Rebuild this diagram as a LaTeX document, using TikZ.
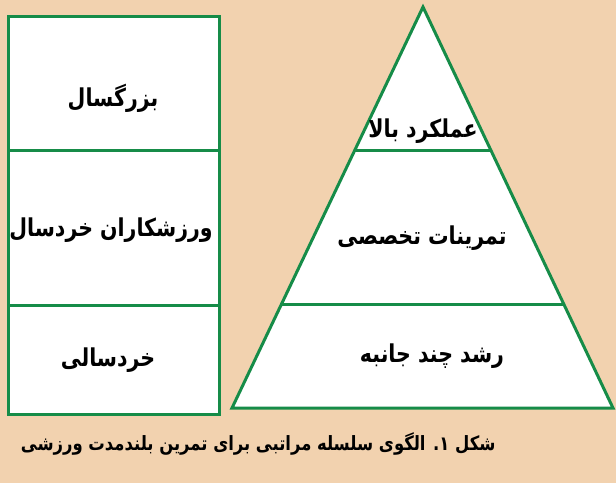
\documentclass[tikz,border=0pt]{standalone}
\usepackage{fontspec}
\usetikzlibrary{calc}
\newfontfamily\farsi[Script=Arabic]{DejaVu Sans}
\TeXXeTstate=1
\definecolor{peach}{RGB}{242,210,175}
\definecolor{leafgreen}{RGB}{22,140,72}
\newcommand{\fa}[1]{\scalebox{1}[1.2]{\beginR #1\endR}}
\begin{document}
\begin{tikzpicture}[x=1pt, y=-1pt, line width=3pt,
    cell/.style={rectangle, draw=leafgreen, fill=white, minimum width=211pt, anchor=north west, inner sep=0pt},
    tiertext/.style={inner sep=0pt, font=\farsi\bfseries\fontsize{20.5}{24}\selectfont},
    figcap/.style={inner sep=0pt, font=\farsi\bfseries\fontsize{16.4}{20}\selectfont}]
    % background
    \fill[peach] (0,0) rectangle (616,483);
    \useasboundingbox (0,0) rectangle (616,483);
    % age column
    \node[cell, minimum height=134pt] (adult) at (7,15) {};
    \node[cell, minimum height=155pt] (youth) at (7,149) {};
    \node[cell, minimum height=109pt] (child) at (7,304) {};
    \node[tiertext] (adulttext) at (113,98) {\fa{بزرگسال}};
    \node[tiertext] (youthtext) at (111,230) {\fa{ورزشکاران خردسال}};
    \node[tiertext] (childtext) at (108,360) {\fa{خردسالی}};
    % pyramid
    \coordinate (apex) at (423,7);
    \coordinate (baseleft) at (232,408);
    \coordinate (baseright) at (613,408);
    \draw[leafgreen, fill=white] (apex) -- (baseleft) -- (baseright) -- cycle;
    \draw[leafgreen] ($(apex)!0.357!(baseleft)$) coordinate (topleft) -- ($(apex)!0.357!(baseright)$) coordinate (topright);
    \draw[leafgreen] ($(apex)!0.741!(baseleft)$) coordinate (midleft) -- ($(apex)!0.741!(baseright)$) coordinate (midright);
    \node[tiertext] (peaktext) at (423,131) {\fa{عملکرد بالا}};
    \node[tiertext] (specialtext) at (422,238) {\fa{تمرینات تخصصی}};
    \node[tiertext] (basetext) at (432,356) {\fa{رشد چند جانبه}};
    % caption
    \node[figcap, anchor=east] (figcaption) at (497,444) {\fa{شکل ۱. الگوی سلسله مراتبی برای تمرین بلندمدت ورزشی}};
\end{tikzpicture}
\end{document}
